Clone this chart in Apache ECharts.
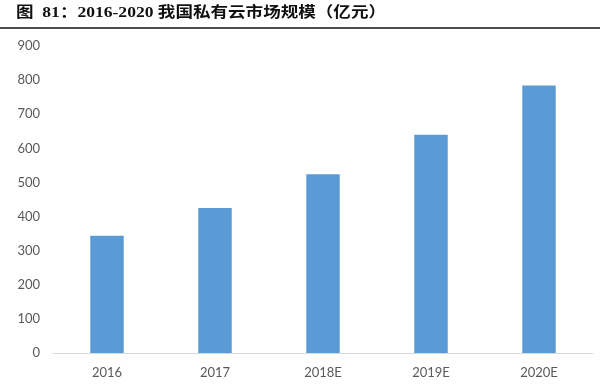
<!DOCTYPE html>
<html><head><meta charset="utf-8">
<script src="https://cdn.jsdelivr.net/npm/echarts@6/dist/echarts.min.js"></script>
<style>html,body{margin:0;padding:0;background:#fff}#c{width:600px;height:389px}</style>
</head><body><div id="c"></div>
<script>
const titleText = '图  81：2016-2020 我国私有云市场规模（亿元）';
const categories = ['2016', '2017', '2018E', '2019E', '2020E'];
const values = [344, 425, 524, 640, 784];
const yTicks = [0, 100, 200, 300, 400, 500, 600, 700, 800, 900];

const chart = echarts.init(document.getElementById('c'));
chart.setOption({
  animation: false,
  backgroundColor: '#fff',
  graphic: [
    {type: 'text', left: 16, top: 6, scaleX: 1.17, style: {
      text: titleText, fill: '#111',
      font: 'bold 15px "Liberation Serif", "Noto Sans CJK SC"'
    }},
    {type: 'line', shape: {x1: 0, y1: 28, x2: 600, y2: 28}, style: {stroke: '#111', lineWidth: 1.5}}
  ],
  grid: {left: 53, right: 7, top: 46, bottom: 36},
  xAxis: {
    type: 'category', data: categories,
    axisLine: {lineStyle: {color: '#d9d9d9', width: 1}},
    axisTick: {show: false},
    axisLabel: {color: '#595959', fontSize: 13, margin: 13, fontFamily: 'Lato, "Open Sans", sans-serif'}
  },
  yAxis: {
    type: 'value', min: yTicks[0], max: yTicks[yTicks.length - 1], interval: 100,
    axisLine: {show: false}, axisTick: {show: false}, splitLine: {show: false},
    axisLabel: {color: '#595959', fontSize: 13, margin: 13, fontFamily: 'Lato, "Open Sans", sans-serif'}
  },
  series: [{
    type: 'bar', data: values, barWidth: '31%',
    itemStyle: {color: '#5b9bd5'}
  }]
});
</script></body></html>
